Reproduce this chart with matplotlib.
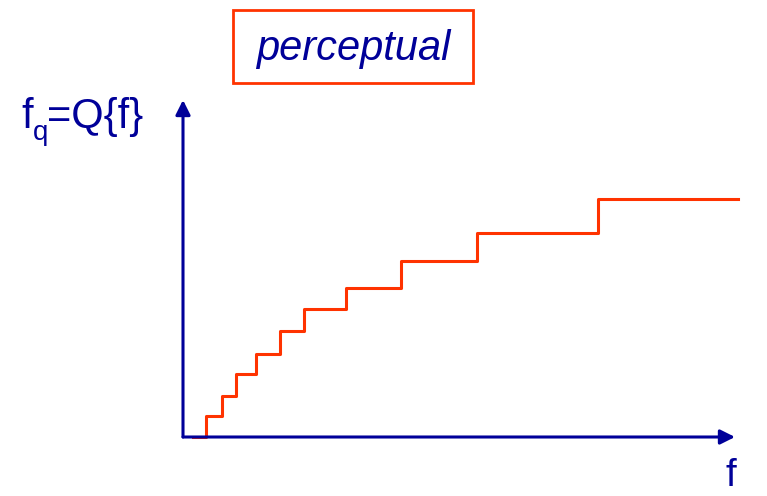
import matplotlib
matplotlib.use('Agg')
import matplotlib.pyplot as plt
from matplotlib.patches import Rectangle

plt.rcParams['font.family'] = ['Liberation Sans', 'DejaVu Sans']

# quantizer thresholds (f) and output levels (fq), perceptual spacing
f_edges = [10, 23, 39, 53, 73, 97, 121, 163, 218, 294, 415, 555]
fq_levels = [0, 21, 41, 63, 83, 106, 128, 149, 176, 204, 238, 238]

axis_color = '#000099'
line_color = '#ff3300'

fig = plt.figure(figsize=(7.67, 4.96), dpi=100)
ax = fig.add_axes([0, 0, 1, 1])
ax.set_xlim(-183, 584)
ax.set_ylim(-59, 437)
ax.axis('off')

# axes arrows
ax.annotate('', xy=(552, 0), xytext=(0, 0),
            arrowprops=dict(arrowstyle='-|>', color=axis_color, lw=2.2,
                            mutation_scale=22, shrinkA=0, shrinkB=0))
ax.annotate('', xy=(0, 337), xytext=(0, 0),
            arrowprops=dict(arrowstyle='-|>', color=axis_color, lw=2.2,
                            mutation_scale=22, shrinkA=0, shrinkB=0))

# staircase
ax.step(f_edges, fq_levels, where='post', color=line_color, lw=2.2)

# y label: f with subscript q, then =Q{f}
ax.text(-162, 309, 'f', fontsize=30, color=axis_color, ha='left', va='baseline')
ax.text(-150, 297, 'q', fontsize=20, color=axis_color, ha='left', va='baseline')
ax.text(-136, 309, '=Q{f}', fontsize=30, color=axis_color, ha='left', va='baseline')
ax.text(548, -49, 'f', fontsize=28, color=axis_color, ha='center', va='baseline')

# title box
ax.add_patch(Rectangle((50, 354), 240, 73, fill=False, ec=line_color, lw=2))
ax.text(170, 388, 'perceptual', fontsize=30, style='italic', color=axis_color,
        ha='center', va='center')

fig.savefig('out.png', dpi=100)
